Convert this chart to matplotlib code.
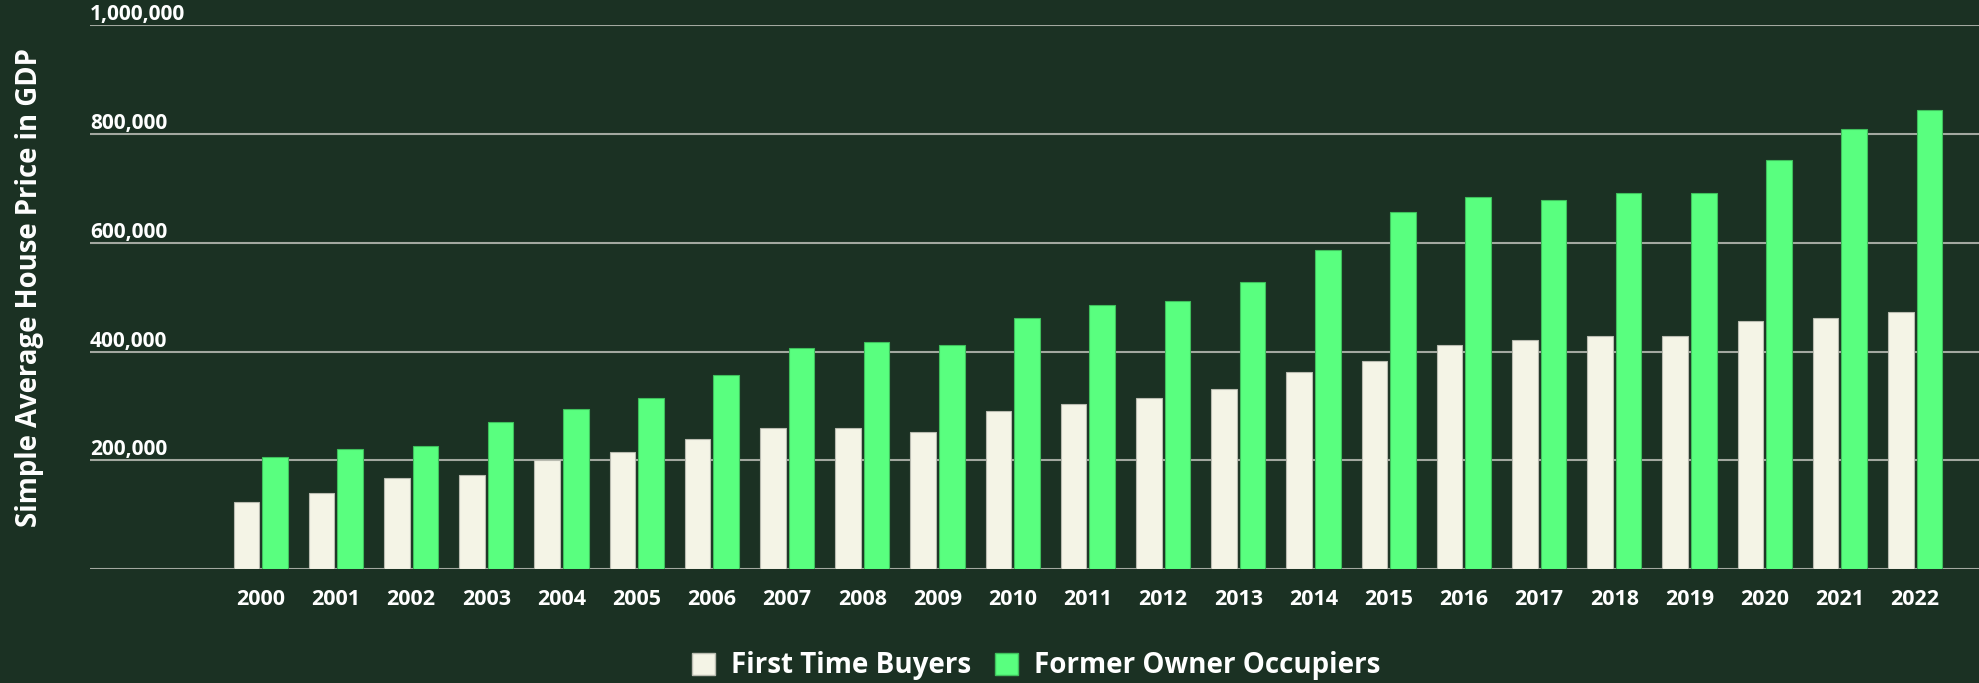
import matplotlib
matplotlib.use("Agg")
import matplotlib.pyplot as plt
import numpy as np
from matplotlib.patches import Patch

years = [str(y) for y in range(2000, 2023)]
first_time_buyers = [124000, 141000, 168000, 174000, 200000, 216000, 239000, 260000, 260000, 253000,
                     291000, 304000, 315000, 332000, 363000, 382000, 413000, 421000, 429000, 429000,
                     457000, 462000, 473000]
former_owner_occupiers = [207000, 221000, 227000, 271000, 295000, 315000, 357000, 406000, 418000, 413000,
                          462000, 485000, 493000, 529000, 587000, 656000, 684000, 678000, 692000, 692000,
                          752000, 810000, 845000]
y_ticks = [0, 200000, 400000, 600000, 800000, 1000000]
y_tick_labels = ["", "200,000", "400,000", "600,000", "800,000", "1,000,000"]
series_names = ["First Time Buyers", "Former Owner Occupiers"]

BG = "#1b3123"
C_FTB = "#f4f4e6"
C_FOO = "#59ff7f"
GRID = "#a3a8a0"

plt.rcParams['font.family'] = ['Open Sans', 'DejaVu Sans']

fig = plt.figure(figsize=(19.79, 6.83), dpi=100, facecolor=BG)
ax = fig.add_axes([90/1979, (683-569.3)/683, 1 - 90/1979, (569.3-25.3)/683])
ax.set_facecolor(BG)

x = np.arange(len(years))
w = 0.34
off = 0.19
ax.bar(x - off, first_time_buyers, width=w, color=C_FTB, edgecolor="#b9bbb0", linewidth=0.8, zorder=3)
ax.bar(x + off, former_owner_occupiers, width=w, color=C_FOO, edgecolor="#3fbf5c", linewidth=0.8, zorder=3)

ax.set_xlim(-2.27, 22.85)
ax.set_ylim(0, 1000000)
ax.set_yticks(y_ticks)
ax.set_yticklabels(y_tick_labels)
ax.set_xticks(x)
ax.set_xticklabels(years)

for s in ax.spines.values():
    s.set_visible(False)
ax.grid(axis='y', color=GRID, linewidth=1.5, zorder=1)
ax.set_axisbelow(True)
ax.tick_params(axis='both', length=0)
ax.tick_params(axis='y', pad=0, labelsize=15, labelcolor='white')
ax.tick_params(axis='x', pad=14, labelsize=15.5, labelcolor='white')
for lab in ax.get_yticklabels():
    lab.set_horizontalalignment('left')
    lab.set_verticalalignment('bottom')
    lab.set_fontweight('bold')
for lab in ax.get_xticklabels():
    lab.set_fontweight('bold')

fig.text(30/1979, 1 - 287.5/683, "Simple Average House Price in GDP", rotation=90,
         ha='center', va='center', color='white', fontsize=19.8, fontweight='bold')

handles = [Patch(facecolor=C_FTB, edgecolor="#b9bbb0", label=series_names[0]),
           Patch(facecolor=C_FOO, edgecolor="#3fbf5c", label=series_names[1])]
leg = fig.legend(handles=handles, loc='center', bbox_to_anchor=(1036/1979, 1 - 666/683), ncol=2,
                 frameon=False, fontsize=20, handlelength=0.83, handleheight=0.83,
                 handletextpad=0.58, columnspacing=0.86, borderpad=0, borderaxespad=0)
for t in leg.get_texts():
    t.set_color('white')
    t.set_fontweight('bold')

fig.savefig("out.png", dpi=100, facecolor=BG)
